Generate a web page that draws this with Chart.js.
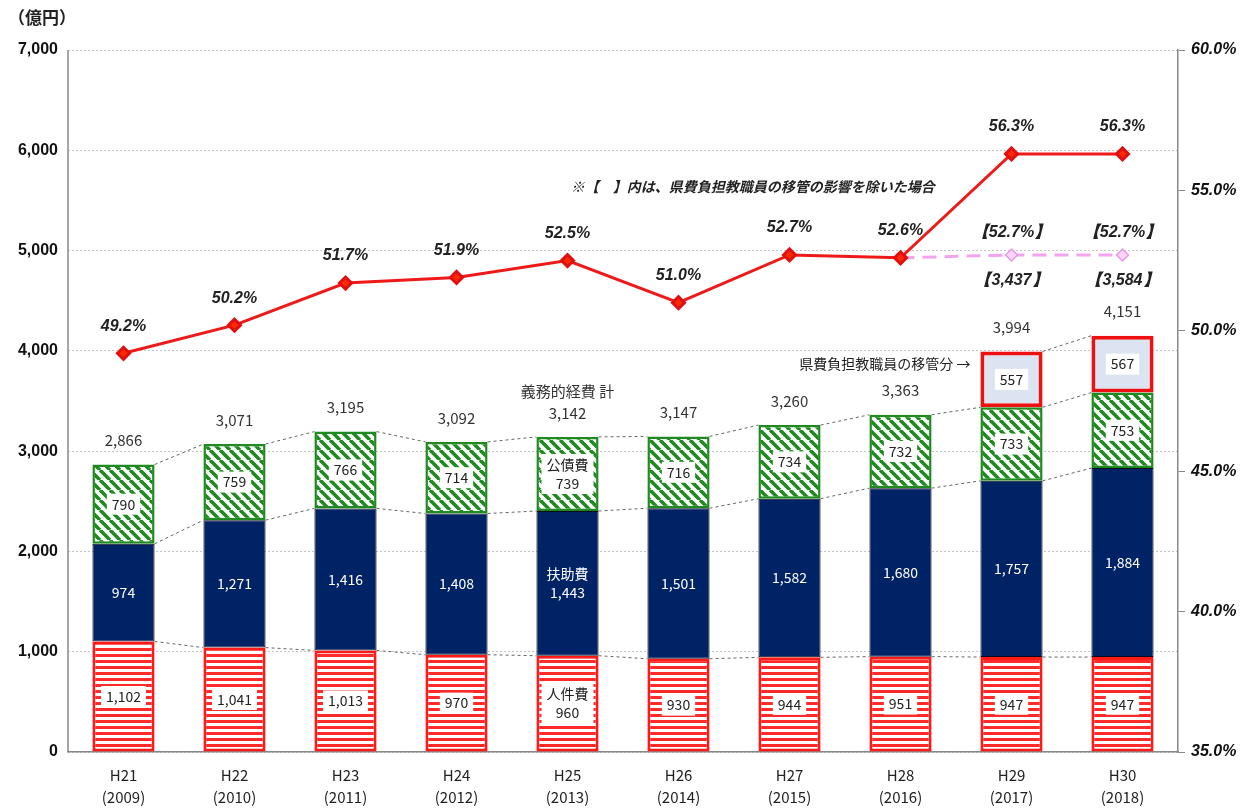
<!DOCTYPE html>
<html>
<head>
<meta charset="utf-8">
<script src="https://cdn.jsdelivr.net/npm/chart.js@4"></script>
<style>
html, body { margin: 0; padding: 0; background: #fff; }
#caixaGrafico { width: 1251px; height: 812px; }
</style>
</head>
<body>
<div id="caixaGrafico"><canvas id="grafico"></canvas></div>
<script>
// dados (億円 / %)
var anos = [['H21','(2009)'],['H22','(2010)'],['H23','(2011)'],['H24','(2012)'],['H25','(2013)'],
            ['H26','(2014)'],['H27','(2015)'],['H28','(2016)'],['H29','(2017)'],['H30','(2018)']];
var jinkenhi = [1102, 1041, 1013, 970, 960, 930, 944, 951, 947, 947];   // 人件費
var fujohi   = [974, 1271, 1416, 1408, 1443, 1501, 1582, 1680, 1757, 1884]; // 扶助費
var kosaihi  = [790, 759, 766, 714, 739, 716, 734, 732, 733, 753];     // 公債費
var ikanbun  = [0, 0, 0, 0, 0, 0, 0, 0, 557, 567];                     // 県費負担教職員の移管分
var totais   = [2866, 3071, 3195, 3092, 3142, 3147, 3260, 3363, 3994, 4151];
var ratio    = [49.2, 50.2, 51.7, 51.9, 52.5, 51.0, 52.7, 52.6, 56.3, 56.3];
var ratioSemIkan  = [null, null, null, null, null, null, null, 52.6, 52.7, 52.7];
var totaisSemIkan = [null, null, null, null, null, null, null, null, 3437, 3584];
var ticksEsquerda = [0, 1000, 2000, 3000, 4000, 5000, 6000, 7000];
var ticksDireita  = [35, 40, 45, 50, 55, 60];

var fonteJP = '"Noto Sans CJK JP", "Noto Sans", sans-serif';
var fonteNum = '"Liberation Sans", Arial, sans-serif';

function padraoListras(){
    var c = document.createElement('canvas');
    c.width = 8; c.height = 6;
    var g = c.getContext('2d');
    g.fillStyle = '#ffffff';
    g.fillRect(0, 0, 8, 6);
    g.fillStyle = '#ff2a2a';
    g.fillRect(0, 0, 8, 3);
    return g.createPattern(c, 'repeat');
}

function padraoDiagonal(){
    var s = 10;
    var c = document.createElement('canvas');
    c.width = s; c.height = s;
    var g = c.getContext('2d');
    g.fillStyle = '#ffffff';
    g.fillRect(0, 0, s, s);
    g.strokeStyle = '#1f8a1f';
    g.lineWidth = 3.6;
    for (var k = -1; k <= 1; k++){
        g.beginPath();
        g.moveTo(k * s, 0);
        g.lineTo(k * s + s, s);
        g.stroke();
    }
    return g.createPattern(c, 'repeat');
}

function textoCaixa(ctx, linhas, x, y, corTexto, comCaixa){
    ctx.font = '14px ' + fonteJP;
    var alt = 19;
    var larg = 0;
    for (var i = 0; i < linhas.length; i++){
        larg = Math.max(larg, ctx.measureText(linhas[i]).width);
    }
    var h = alt * linhas.length + 2;
    if (comCaixa){
        ctx.fillStyle = '#ffffff';
        ctx.fillRect(x - larg / 2 - 5, y - h / 2, larg + 10, h);
    }
    ctx.fillStyle = corTexto;
    ctx.textAlign = 'center';
    ctx.textBaseline = 'middle';
    for (var j = 0; j < linhas.length; j++){
        ctx.fillText(linhas[j], x, y - h / 2 + 1 + alt * j + alt / 2);
    }
}

function fmt(v){ return v.toLocaleString('en-US'); }

var rotulos = {
    id: 'rotulos',
    beforeDatasetsDraw: function(chart){
        var ctx = chart.ctx;
        var y = chart.scales.y;
        var area = chart.chartArea;
        var barras = chart.getDatasetMeta(0).data;
        var series = [jinkenhi, fujohi, kosaihi, ikanbun];
        ctx.save();
        // eixo esquerdo continuo
        ctx.strokeStyle = '#888';
        ctx.lineWidth = 1.5;
        ctx.beginPath();
        ctx.moveTo(area.left, area.top);
        ctx.lineTo(area.left, area.bottom);
        ctx.stroke();
        // linhas tracejadas entre as barras
        ctx.strokeStyle = '#666';
        ctx.lineWidth = 1;
        ctx.setLineDash([3, 3]);
        for (var k = 0; k < 4; k++){
            for (var i = 0; i < barras.length - 1; i++){
                if (series[k][i] <= 0 || series[k][i + 1] <= 0) continue;
                var a = 0, b = 0;
                for (var m = 0; m <= k; m++){ a += series[m][i]; b += series[m][i + 1]; }
                ctx.beginPath();
                ctx.moveTo(barras[i].x + barras[i].width / 2, y.getPixelForValue(a));
                ctx.lineTo(barras[i + 1].x - barras[i + 1].width / 2, y.getPixelForValue(b));
                ctx.stroke();
            }
        }
        ctx.restore();
    },
    afterDatasetsDraw: function(chart){
        var ctx = chart.ctx;
        var y = chart.scales.y;
        var y1 = chart.scales.y1;
        var x = chart.scales.x;
        ctx.save();
        for (var i = 0; i < anos.length; i++){
            var r = chart.getDatasetMeta(0).data[i];
            var f = chart.getDatasetMeta(1).data[i];
            var k = chart.getDatasetMeta(2).data[i];
            var t = chart.getDatasetMeta(3).data[i];
            var cx = r.x;
            if (i == 4){
                textoCaixa(ctx, ['人件費', fmt(jinkenhi[i])], cx, (r.y + r.base) / 2, '#222', true);
                textoCaixa(ctx, ['扶助費', fmt(fujohi[i])], cx, (f.y + f.base) / 2, '#ffffff', false);
                textoCaixa(ctx, ['公債費', fmt(kosaihi[i])], cx, (k.y + k.base) / 2, '#222', true);
            } else {
                textoCaixa(ctx, [fmt(jinkenhi[i])], cx, (r.y + r.base) / 2, '#222', true);
                textoCaixa(ctx, [fmt(fujohi[i])], cx, (f.y + f.base) / 2, '#ffffff', false);
                textoCaixa(ctx, [fmt(kosaihi[i])], cx, (k.y + k.base) / 2, '#222', true);
            }
            if (ikanbun[i] > 0){
                textoCaixa(ctx, [fmt(ikanbun[i])], cx, (t.y + t.base) / 2, '#222', true);
            }
            // total
            ctx.font = '15px ' + fonteJP;
            ctx.fillStyle = '#333';
            ctx.textAlign = 'center';
            ctx.textBaseline = 'middle';
            ctx.fillText(fmt(totais[i]), cx, y.getPixelForValue(totais[i]) - 24);
            if (i == 4){
                ctx.fillText('義務的経費 計', cx, y.getPixelForValue(totais[i]) - 46);
            }
            // percentual
            ctx.font = 'italic bold 16px ' + fonteNum;
            ctx.fillStyle = '#222';
            ctx.fillText(ratio[i].toFixed(1) + '%', cx, y1.getPixelForValue(ratio[i]) - 27);
            if (totaisSemIkan[i] != null){
                ctx.fillText('【' + ratioSemIkan[i].toFixed(1) + '%】', cx, y1.getPixelForValue(ratioSemIkan[i]) - 22);
                ctx.fillText('【' + fmt(totaisSemIkan[i]) + '】', cx, y1.getPixelForValue(ratioSemIkan[i]) + 26);
            }
        }
        // notas
        ctx.font = 'italic bold 14px ' + fonteJP;
        ctx.fillStyle = '#222';
        ctx.textAlign = 'center';
        ctx.fillText('※【　】内は、県費負担教職員の移管の影響を除いた場合', x.getPixelForValue(5.67), y.getPixelForValue(5640));
        var b29 = chart.getDatasetMeta(0).data[8];
        ctx.font = '14px ' + fonteJP;
        ctx.textAlign = 'right';
        ctx.fillText('県費負担教職員の移管分 →', b29.x - b29.width / 2 - 10, y.getPixelForValue(3870));
        // unidade
        ctx.font = 'bold 17px ' + fonteJP;
        ctx.textAlign = 'left';
        ctx.fillText('（億円）', 8, 18);
        ctx.restore();
    }
};

function criarGrafico(ctx){
    var config = {
        type: 'bar',
        data: {
            labels: anos,
            datasets: [{
                label: '人件費',
                data: jinkenhi,
                backgroundColor: padraoListras(),
                borderColor: '#ff1a1a',
                borderWidth: 3,
                borderSkipped: false,
                yAxisID: 'y',
                order: 2
            }, {
                label: '扶助費',
                data: fujohi,
                backgroundColor: '#002366',
                borderColor: '#0a0a1a',
                borderWidth: 1,
                borderSkipped: false,
                yAxisID: 'y',
                order: 2
            }, {
                label: '公債費',
                data: kosaihi,
                backgroundColor: padraoDiagonal(),
                borderColor: '#1f8a1f',
                borderWidth: 2.5,
                borderSkipped: false,
                yAxisID: 'y',
                order: 2
            }, {
                label: '移管分',
                data: ikanbun,
                backgroundColor: '#dce3f1',
                borderColor: '#ee1111',
                borderWidth: 4,
                borderSkipped: false,
                yAxisID: 'y',
                order: 2
            }, {
                type: 'line',
                label: '義務的経費比率',
                data: ratio,
                borderColor: '#ee1a1a',
                borderWidth: 3,
                backgroundColor: '#ff2200',
                pointStyle: 'rectRot',
                pointRadius: 6,
                pointBackgroundColor: '#ff2a00',
                pointBorderColor: '#e01010',
                yAxisID: 'y1',
                order: 0
            }, {
                type: 'line',
                label: '移管除く',
                data: ratioSemIkan,
                borderColor: '#f2a4ee',
                borderWidth: 3,
                borderDash: [14, 8],
                pointStyle: 'rectRot',
                pointRadius: [0, 0, 0, 0, 0, 0, 0, 0, 6, 6],
                pointBackgroundColor: '#ffd4f6',
                pointBorderColor: '#e59ae6',
                pointBorderWidth: 1.5,
                yAxisID: 'y1',
                order: 1
            }]
        },
        options: {
            responsive: true,
            maintainAspectRatio: false,
            animation: false,
            layout: { padding: { top: 50, left: 0, right: 0, bottom: 0 } },
            datasets: { bar: { barPercentage: 0.56, categoryPercentage: 1 } },
            plugins: { legend: { display: false }, tooltip: { enabled: false } },
            scales: {
                x: {
                    stacked: true,
                    afterFit: function(s){ s.height = 60; },
                    grid: { display: false, drawTicks: false },
                    border: { display: true, color: '#888', width: 1.5 },
                    ticks: {
                        padding: 12,
                        color: '#222',
                        font: { family: fonteJP, size: 15, lineHeight: 1.5 }
                    }
                },
                y: {
                    stacked: true,
                    min: 0,
                    max: 7000,
                    afterFit: function(s){ s.width = 68; },
                    afterBuildTicks: function(s){ s.ticks = ticksEsquerda.map(function(v){ return { value: v }; }); },
                    grid: { color: '#c4c4c4', drawTicks: false },
                    border: { display: false, dash: [2, 2] },
                    ticks: {
                        padding: 10,
                        color: '#111',
                        font: { family: fonteNum, size: 16, weight: 'bold' },
                        callback: function(v){ return fmt(v); }
                    }
                },
                y1: {
                    position: 'right',
                    min: 35,
                    max: 60,
                    afterFit: function(s){ s.width = 73; },
                    afterBuildTicks: function(s){ s.ticks = ticksDireita.map(function(v){ return { value: v }; }); },
                    grid: { drawOnChartArea: false, drawTicks: true, tickLength: 7, color: '#888' },
                    border: { display: true, color: '#888', width: 1.5 },
                    ticks: {
                        padding: 6,
                        color: '#111',
                        font: { family: fonteNum, size: 16, weight: 'bold', style: 'italic' },
                        callback: function(v){ return v.toFixed(1) + '%'; }
                    }
                }
            }
        },
        plugins: [rotulos]
    };
    const meuGrafico = new Chart(ctx, config);
}

criarGrafico(document.getElementById('grafico'));
</script>
</body>
</html>
